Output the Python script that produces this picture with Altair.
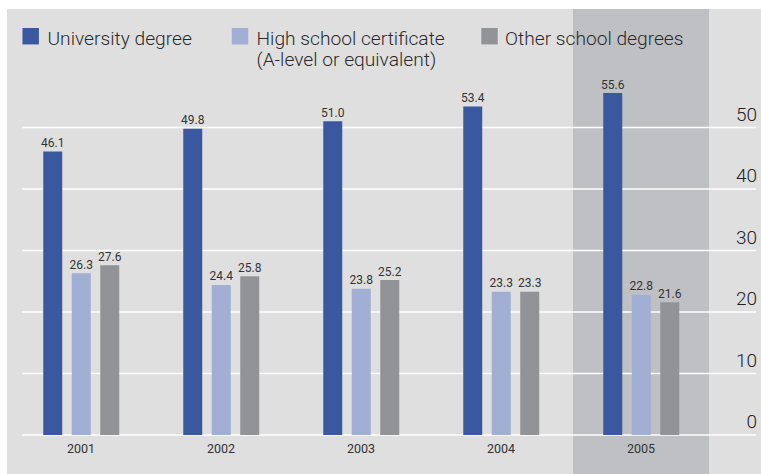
import altair as alt
import pandas as pd

# ---------------- data ----------------
years = ["2001", "2002", "2003", "2004", "2005"]
series = ["University degree", "High school certificate\n(A-level or equivalent)", "Other school degrees"]
university = [46.1, 49.8, 51.0, 53.4, 55.6]
high_school = [26.3, 24.4, 23.8, 23.3, 22.8]
other_school = [27.6, 25.8, 25.2, 23.3, 21.6]
y_ticks = [0, 10, 20, 30, 40, 50]
highlight_years = ["2005"]
colors = ["#3a58a0", "#a0afd3", "#929396"]

rows = []
for i, yr in enumerate(years):
    for s, vals in zip(series, [university, high_school, other_school]):
        rows.append({"year": yr, "series": s, "value": vals[i], "label": f"{vals[i]:.1f}"})
df = pd.DataFrame(rows)

FONT = "Roboto"
W, H = 754, 465

x_scale = alt.Scale(domain=years, range=[4, 704], paddingInner=0, paddingOuter=0)
y_scale = alt.Scale(domain=[0, 50], range=[426, 118.5], nice=False)
off_scale = alt.Scale(domain=series, range=[27.5, 113], paddingInner=0, paddingOuter=0)
color_scale = alt.Scale(domain=series, range=colors)

# highlighted band behind 2005
band = alt.Chart(pd.DataFrame({"year": highlight_years})).mark_bar(
    color="#bfc0c4", width=136
).encode(
    x=alt.X("year:N", scale=x_scale, axis=None),
    y=alt.value(0),
    y2=alt.value(H),
)

# white gridlines
grid = alt.Chart(pd.DataFrame({"v": y_ticks})).mark_rule(
    color="white", strokeWidth=1.4
).encode(
    y=alt.Y("v:Q", scale=y_scale, axis=None),
    x=alt.value(15),
    x2=alt.value(749),
)

# right-hand tick labels
tick_labels = alt.Chart(pd.DataFrame({"v": y_ticks})).mark_text(
    align="right", baseline="alphabetic", dy=-7, fontSize=19, font=FONT,
    fontWeight=300, color="#222222"
).encode(
    y=alt.Y("v:Q", scale=y_scale, axis=None),
    x=alt.value(750),
    text=alt.Text("v:Q"),
)

bars = alt.Chart(df).mark_bar(width=19).encode(
    x=alt.X("year:N", scale=x_scale, axis=None),
    xOffset=alt.XOffset("series:N", scale=off_scale, sort=series),
    y=alt.Y("value:Q", scale=y_scale, axis=None),
    color=alt.Color("series:N", scale=color_scale, legend=None),
)

value_labels = alt.Chart(df).mark_text(
    baseline="alphabetic", dy=-4.5, fontSize=12, font=FONT, fontWeight=400,
    color="#333333"
).encode(
    x=alt.X("year:N", scale=x_scale, axis=None),
    xOffset=alt.XOffset("series:N", scale=off_scale, sort=series),
    y=alt.Y("value:Q", scale=y_scale, axis=None),
    text="label:N",
)

year_labels = alt.Chart(pd.DataFrame({"year": years})).transform_calculate(
    zero="0"
).mark_text(
    baseline="alphabetic", dy=18, fontSize=12.5, font=FONT, fontWeight=400,
    color="#333333"
).encode(
    x=alt.X("year:N", scale=x_scale, axis=None),
    y=alt.Y("zero:Q", scale=y_scale, axis=None),
    text="year:N",
)

# manual legend
sq_x = [23.7, 233.0, 482.5]
tx_x = [40.5, 249.5, 498.0]
legend_layers = []
for i, s in enumerate(series):
    ld = pd.DataFrame({"series": [s]})
    legend_layers.append(
        alt.Chart(ld).mark_square(size=270, opacity=1).encode(
            x=alt.value(sq_x[i]),
            y=alt.value(27.2),
            color=alt.Color("series:N", scale=color_scale, legend=None),
        )
    )
    legend_layers.append(
        alt.Chart(ld).mark_text(
            align="left", baseline="alphabetic", fontSize=19.2, font=FONT,
            fontWeight=300, color="#2a2a2a", lineBreak="\n", lineHeight=21
        ).encode(
            x=alt.value(tx_x[i]),
            y=alt.value(36),
            text="series:N",
        )
    )

chart = alt.layer(
    band, grid, tick_labels, bars, value_labels, year_labels, *legend_layers
).properties(
    width=W,
    height=H,
    padding={"left": 7, "top": 9, "right": 0, "bottom": 0},
    autosize=alt.AutoSizeParams(type="none"),
    background="white",
).configure_view(
    fill="#dfdfdf", stroke=None
)

chart.save("out.html", embed_options={"renderer": "svg", "actions": False})
